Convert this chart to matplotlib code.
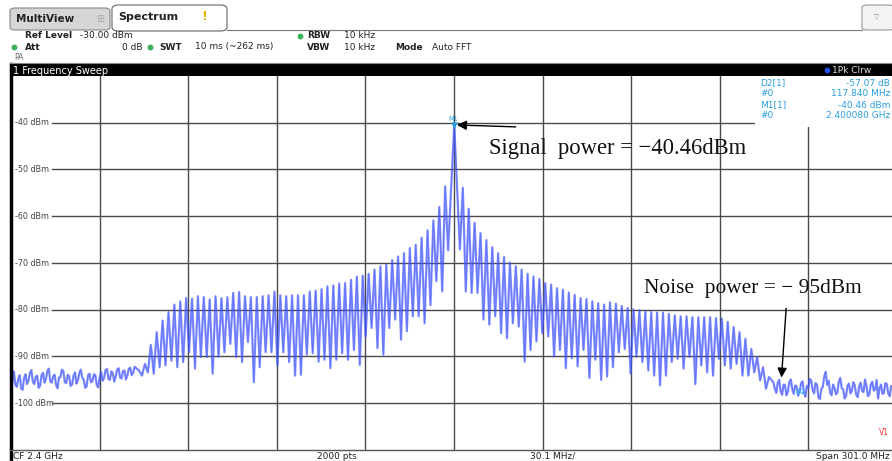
import matplotlib
matplotlib.use("Agg")
import matplotlib.pyplot as plt
import numpy as np
from matplotlib.patches import Rectangle, FancyBboxPatch
from matplotlib.lines import Line2D

W, H = 892, 461

# sweep settings
span_mhz = 301.0
ref_level = -30.0
n_rows = 8
n_cols = 10
lobe_spacing = 2.0   # MHz between sidelobe nulls

# marker readout
m1_freq = 0.08       # MHz from CF
m1_level = -40.46
d2_offset = 117.84
d2_delta = -57.07

# sidelobe peak / null levels (dBm), carrier outwards
left_peaks = [-53.6, -58.0, -60.9, -63.0, -64.6, -66.1, -66.8, -67.9, -68.6, -69.4,
              -70.4, -70.7, -71.4, -72.3, -72.7, -72.9, -73.6, -74.3, -74.4, -74.8,
              -75.0, -75.6, -75.9, -76.1, -76.9, -76.9, -76.9, -77.1, -76.9, -76.1,
              -76.9, -77.1, -77.3, -77.3, -77.1, -76.2, -76.4, -77.3, -77.5, -77.1,
              -77.8, -77.3, -77.1, -77.6, -77.5, -78.2, -78.9, -80.5, -82.3, -84.8,
              -87.5, -91.6, -93.0]
left_nulls = [-67.3, -76.1, -73.9, -79.0, -82.9, -81.4, -81.4, -84.6, -86.4, -82.1,
              -83.9, -89.6, -88.2, -83.9, -85.7, -91.8, -88.6, -90.7, -89.3, -90.7,
              -92.5, -90.7, -91.1, -89.3, -89.6, -93.9, -94.1, -91.2, -89.1, -91.9,
              -89.1, -89.1, -92.3, -95.5, -86.9, -91.2, -90.1, -87.3, -89.1, -90.1,
              -93.7, -90.1, -90.1, -92.6, -89.1, -91.2, -92.3, -90.9, -91.9, -92.3,
              -93.7, -93.4, -94.1]
right_peaks = [-53.9, -58.4, -61.4, -63.6, -65.1, -66.6, -67.9, -68.7, -69.9, -70.7,
               -71.4, -72.3, -72.9, -73.4, -74.3, -74.6, -75.4, -75.7, -76.3, -76.8,
               -77.5, -77.7, -78.2, -78.6, -78.9, -78.4, -78.7, -79.2, -79.6, -79.9,
               -80.1, -80.4, -80.5, -80.6, -80.6, -80.9, -81.2, -81.4, -81.4, -81.6,
               -81.6, -81.6, -81.6, -81.8, -81.9, -82.6, -83.7, -84.8, -86.2, -88.4,
               -90.1, -92.3, -94.4]
right_nulls = [-67.1, -76.1, -76.4, -76.4, -82.1, -83.2, -81.4, -85.0, -86.1, -82.9,
               -83.6, -91.1, -88.6, -86.8, -85.0, -85.7, -90.0, -88.6, -92.5, -90.4,
               -92.1, -88.6, -94.6, -90.7, -95.0, -94.3, -92.3, -89.1, -88.4, -93.7,
               -90.1, -91.2, -93.0, -94.1, -96.2, -94.1, -91.2, -90.5, -92.6, -90.1,
               -95.9, -91.9, -93.4, -94.1, -90.5, -91.9, -92.6, -91.6, -94.1, -94.1,
               -93.4, -95.1, -96.9]

# noise floor outside the band (dBm)
noise_left = [-97.9, -95.1, -93.2, -96.0, -96.5, -94.8, -94.0, -96.9, -97.1, -94.6,
              -93.8, -95.9, -95.2, -93.6, -92.9, -95.4, -95.9, -94.3, -94.1, -96.7,
              -96.3, -94.0, -93.5, -95.6, -94.8, -93.1, -92.6, -95.3, -95.6, -94.2,
              -93.9, -96.1, -96.8, -94.5, -94.4, -92.8, -93.1, -95.5, -95.7, -93.9,
              -94.2, -96.3, -96.0, -94.1, -93.4, -95.8, -95.1, -93.5, -92.8, -94.6,
              -94.9, -96.7, -96.4, -94.0, -93.7, -95.5, -95.3, -93.8, -94.0, -96.2,
              -96.6, -94.4, -93.3, -95.2, -94.6, -92.9, -92.7, -94.8, -95.0, -93.2,
              -93.6, -95.4, -94.3, -92.8, -92.5, -94.5, -94.7, -93.1, -93.0, -94.9,
              -94.1, -92.6, -92.4, -94.0, -93.5, -92.2]
noise_right = [-95.5, -96.9, -97.8, -95.6, -95.0, -97.4, -98.2, -96.0, -96.1, -98.3,
               -97.5, -95.4, -94.9, -97.0, -98.0, -96.2, -96.4, -98.4, -97.5, -95.8,
               -95.3, -97.6, -98.6, -96.3, -96.8, -94.8, -95.1, -97.2, -97.9, -95.7,
               -96.0, -98.8, -99.1, -96.9, -96.5, -94.2, -93.3, -96.1, -95.2, -97.7,
               -98.3, -96.0, -96.7, -98.1, -97.7, -95.3, -94.6, -96.8, -97.0, -99.0,
               -98.4, -96.2, -95.8, -97.9, -97.3, -95.5, -96.2, -98.2, -98.7, -96.4,
               -95.6, -97.4, -97.6, -94.9, -96.3, -98.5, -98.1, -96.0, -95.4, -97.3,
               -97.1, -95.0, -99.0, -96.8, -96.0, -98.0, -97.8, -95.7, -95.9, -97.9,
               -98.5, -96.3, -96.6, -98.9, -97.0, -95.8]

half = span_mhz / 2
n_lobes = len(left_peaks)
edge = (n_lobes + 1) * lobe_spacing

# assemble the trace, left to right
fx, fy = [], []
fx += list(np.linspace(-half, -edge - 0.5, len(noise_left)))
fy += noise_left
for k in range(n_lobes, 0, -1):
    fx += [-(k + 0.5) * lobe_spacing, -k * lobe_spacing]
    fy += [left_peaks[k - 1], left_nulls[k - 1]]
fx.append(m1_freq)
fy.append(m1_level)
for k in range(1, n_lobes + 1):
    fx += [k * lobe_spacing, (k + 0.5) * lobe_spacing]
    fy += [right_nulls[k - 1], right_peaks[k - 1]]
fx += list(np.linspace(edge + 0.5, half, len(noise_right)))
fy += noise_right

fig = plt.figure(figsize=(W / 100, H / 100), dpi=100)
fig.patch.set_facecolor("white")


def fx_(x):
    return x / W


def fy_(y):
    return 1 - y / H


def hline(y, x0, x1, color="#888888", lw=1.0):
    fig.add_artist(Line2D([fx_(x0), fx_(x1)], [fy_(y), fy_(y)], color=color, lw=lw,
                          transform=fig.transFigure))


# plot area
left_px, right_px, top_px, bot_px = 11, 897, 76, 450
ax = fig.add_axes([fx_(left_px), fy_(bot_px), fx_(right_px - left_px), (bot_px - top_px) / H])
ax.set_xlim(-half, half)
ax.set_ylim(ref_level - n_rows * 10, ref_level)
ax.set_xticks([])
ax.set_yticks([])
for s in ax.spines.values():
    s.set_visible(False)

grid_c = "#4a4a4a"
div = span_mhz / n_cols
label_end = -half + 41 * span_mhz / (right_px - left_px)
for i in range(1, n_cols):
    ax.plot([-half + i * div] * 2, [ref_level - n_rows * 10, ref_level], color=grid_c, lw=1, zorder=1)
for j in range(1, n_rows):
    lev = ref_level - j * 10
    ax.plot([label_end, half], [lev, lev], color=grid_c, lw=1, zorder=1)
    ax.text(-half + 1.3, lev, f"{int(lev)} dBm", fontsize=5.8, color="#444444",
            va="center", ha="left", zorder=2)

# marker info box (covers the grid)
box_x0 = -half + (755 - left_px) * span_mhz / (right_px - left_px)
ax.add_patch(Rectangle((box_x0, -40.9), half - box_x0, 11, facecolor="white",
                       edgecolor="none", zorder=3))

ax.plot(fx, fy, color="#4458ff", lw=1.6, alpha=0.68, zorder=4, solid_joinstyle="round")
ax.plot(fx, fy, color="#2a3cf0", lw=0.5, alpha=0.35, zorder=4)

# markers
mc = "#2a9ee0"
ax.plot([m1_freq], [m1_level], marker="v", ms=3.5, color=mc, zorder=6)
ax.text(m1_freq - 0.5, m1_level + 0.6, "M1", fontsize=4.8, color=mc, ha="center", va="bottom", zorder=6)
d2_freq = m1_freq + d2_offset
d2_level = m1_level + d2_delta
ax.text(d2_freq - 0.3, d2_level, "D2", fontsize=4.8, color="#3fb4f0", ha="center", va="center",
        fontweight="bold", zorder=6)

serif = ["Liberation Serif", "DejaVu Serif"]
ax.annotate("", xy=(m1_freq, m1_level), xytext=(21.9, -40.9),
            arrowprops=dict(arrowstyle="-|>", color="black", lw=1, mutation_scale=14), zorder=7)
ax.text(12.0, -45.6, "Signal  power = \u221240.46dBm", fontsize=16.3, family=serif,
        va="center", ha="left", color="#111111", zorder=7)
ax.annotate("", xy=(111.2, -95.1), xytext=(112.9, -79.1),
            arrowprops=dict(arrowstyle="-|>", color="black", lw=1, mutation_scale=14), zorder=7)
ax.text(64.5, -75.5, "Noise  power = \u2212 95dBm", fontsize=15.4, family=serif,
        va="center", ha="left", color="#111111", zorder=7)

# marker table
rows = [("D2[1]", f"{d2_delta:.2f} dB"), ("#0", f"{d2_offset:.3f} MHz"),
        ("M1[1]", f"{m1_level:.2f} dBm"), ("#0", "2.400080 GHz")]
for i, (a, b) in enumerate(rows):
    y = 83 + i * 11
    fig.text(fx_(760), fy_(y), a, fontsize=6.5, color=mc, va="center", ha="left")
    fig.text(fx_(890), fy_(y), b, fontsize=6.5, color=mc, va="center", ha="right")

fig.text(fx_(879), fy_(432), "V1", fontsize=5.5, color="#ff3030", va="center")

# frame: sweep title bar, left rail, footer
fig.add_artist(Rectangle((fx_(10), fy_(76)), fx_(W), 12 / H, facecolor="black",
                         edgecolor="none", transform=fig.transFigure))
fig.text(fx_(13), fy_(70.5), "1 Frequency Sweep", fontsize=7, color="white", va="center")
fig.add_artist(Line2D([fx_(827)], [fy_(70.5)], marker="o", ms=3, color="#2255ff",
                      transform=fig.transFigure))
fig.text(fx_(832), fy_(70.5), "1Pk Clrw", fontsize=6.5, color="#dddddd", va="center")
fig.add_artist(Line2D([fx_(10.5), fx_(10.5)], [fy_(64), fy_(461)], color="black", lw=2.5,
                      transform=fig.transFigure))
hline(450, 10, W, color="#555555", lw=1)
hline(460.5, 10, W, color="#999999", lw=0.8)
foot_y = 456
fig.text(fx_(13), fy_(foot_y), "CF 2.4 GHz", fontsize=6.5, color="#222222", va="center")
fig.text(fx_(317), fy_(foot_y), "2000 pts", fontsize=6.5, color="#222222", va="center")
fig.text(fx_(530), fy_(foot_y), f"{div:.1f} MHz/", fontsize=6.5, color="#222222", va="center")
fig.text(fx_(890), fy_(foot_y), f"Span {span_mhz:.1f} MHz", fontsize=6.5, color="#222222",
         va="center", ha="right")

# tabs
fig.add_artist(FancyBboxPatch((fx_(10), fy_(30)), fx_(100), 22 / H,
                              boxstyle="round,pad=0,rounding_size=0.006",
                              facecolor="#d6d6d6", edgecolor="#888888", lw=0.8,
                              transform=fig.transFigure))
fig.text(fx_(16), fy_(19), "MultiView", fontsize=7.5, fontweight="bold", color="#222222", va="center")
fig.text(fx_(96), fy_(19), "\u229e", fontsize=7, color="#aaaaaa", va="center")
fig.add_artist(FancyBboxPatch((fx_(112), fy_(31)), fx_(115), 26 / H,
                              boxstyle="round,pad=0,rounding_size=0.008",
                              facecolor="white", edgecolor="#666666", lw=0.8,
                              transform=fig.transFigure))
fig.text(fx_(118), fy_(17), "Spectrum", fontsize=8, fontweight="bold", color="#222222", va="center")
fig.text(fx_(201), fy_(16), "!", fontsize=9, fontweight="bold", color="#e0b400", va="center")
hline(30.5, 227, 862, color="#777777", lw=0.8)
fig.add_artist(FancyBboxPatch((fx_(862), fy_(30)), fx_(32), 25 / H,
                              boxstyle="round,pad=0,rounding_size=0.006",
                              facecolor="#f4f4f4", edgecolor="#999999", lw=0.8,
                              transform=fig.transFigure))
fig.text(fx_(877), fy_(17), "\u25bd", fontsize=5, color="#888888", va="center", ha="center")

# settings block
hc = "#222222"
def setting(x, y, label, value=None, vx=None, bold=True):
    fig.text(fx_(x), fy_(y), label, fontsize=6.5, fontweight="bold" if bold else "normal",
             color=hc, va="center")
    if value is not None:
        fig.text(fx_(vx), fy_(y), value, fontsize=6.5, color=hc, va="center")


def dot(x, y):
    fig.add_artist(Line2D([fx_(x)], [fy_(y)], marker="o", ms=3.2, color="#3cb05a",
                          transform=fig.transFigure))


setting(25, 36, "Ref Level", "-30.00 dBm", 80)
dot(300, 36)
setting(307, 36, "RBW", "10 kHz", 344)
dot(14, 47)
setting(25, 47, "Att", "0 dB", 122)
dot(150, 47)
setting(159, 47, "SWT", "10 ms (~262 ms)", 195)
setting(307, 47, "VBW", "10 kHz", 344)
setting(395, 47, "Mode", "Auto FFT", 432)
fig.text(fx_(14), fy_(57.5), "PA", fontsize=5.5, color="#666666", va="center")
hline(63, 10, W, color="#888888", lw=0.8)

fig.savefig("out.png", dpi=100)
